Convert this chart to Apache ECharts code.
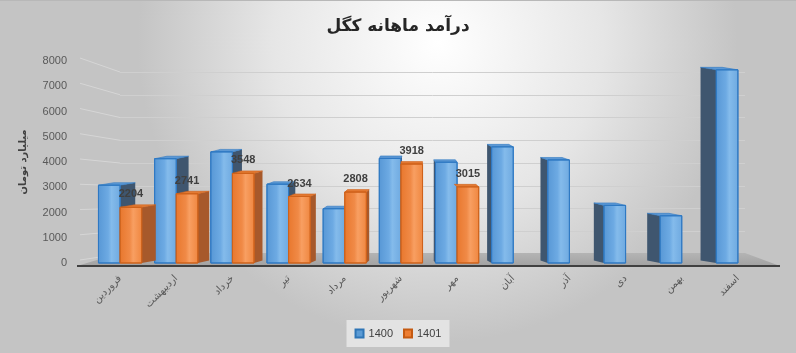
<!DOCTYPE html>
<html>
<head>
<meta charset="utf-8">
<script src="https://cdn.jsdelivr.net/npm/echarts@6/dist/echarts.min.js"></script>
<style>
  html, body { margin: 0; padding: 0; }
  #chart { width: 796px; height: 353px; }
</style>
</head>
<body>
<div id="chart"></div>
<script>
// monthly revenue, billion toman
const months = ["فروردین", "اردیبهشت", "خرداد", "تیر", "مرداد", "شهریور", "مهر", "آبان", "آذر", "دی", "بهمن", "اسفند"];
const rev1400 = [3080, 4130, 4400, 3120, 2150, 4140, 3990, 4600, 4080, 2280, 1870, 7650];
const rev1401 = [2204, 2741, 3548, 2634, 2808, 3918, 3015, null, null, null, null, null];
const yTicks = [0, 1000, 2000, 3000, 4000, 5000, 6000, 7000, 8000];

const faceFont = '"DejaVu Sans", sans-serif';
const numFont = '"Liberation Sans", Arial, sans-serif';

const palette = {
  blue: {
    front: ["#5797d5", "#6daae3", "#84bbeb", "#6ea9e0"],
    side: "#3f566f",
    top: "#5c98d4",
    edge: "#2f79c3"
  },
  orange: {
    front: ["#e8772d", "#f08a47", "#f89f62", "#ef863f"],
    side: "#a7592b",
    top: "#e37a33",
    edge: "#cf621b"
  }
};

function frontFill(c) {
  return new echarts.graphic.LinearGradient(0, 0, 1, 0, [
    { offset: 0, color: c[0] },
    { offset: 0.45, color: c[1] },
    { offset: 0.6, color: c[2] },
    { offset: 1, color: c[3] }
  ]);
}

// fake 3d column: front face + side + top, side direction follows perspective
function columnRenderer(seriesIdx) {
  const c = seriesIdx === 0 ? palette.blue : palette.orange;
  return function (params, api) {
    const v = api.value(1);
    if (v == null || isNaN(v)) return;
    const i = api.value(0);
    const top = api.coord([i, v]);
    const base = api.coord([i, 0]);
    const band = api.size([1, 0])[0];
    const w = band * 0.385;
    const x = seriesIdx === 0 ? top[0] - w : top[0];
    const cs = params.coordSys;
    const vx = cs.x + cs.width * 0.475;
    const dx = (vx - (x + w / 2)) * 0.05;
    const dy = -2.5;
    const yt = top[1], yb = base[1];
    const kids = [];

    if (dx > 0) {
      kids.push({
        type: "polygon",
        shape: { points: [[x + w, yt], [x + w + dx, yt + dy], [x + w + dx, yb + dy], [x + w, yb]] },
        style: { fill: c.side }
      });
    } else if (seriesIdx === 0) {
      kids.push({
        type: "polygon",
        shape: { points: [[x, yt], [x + dx, yt + dy], [x + dx, yb + dy], [x, yb]] },
        style: { fill: c.side }
      });
    }
    kids.push({
      type: "polygon",
      shape: { points: [[x, yt], [x + w, yt], [x + w + dx, yt + dy], [x + dx, yt + dy]] },
      style: { fill: c.top, stroke: c.edge, lineWidth: 0.6 }
    });
    kids.push({
      type: "rect",
      shape: { x: x, y: yt, width: w, height: yb - yt },
      style: { fill: frontFill(c.front), stroke: c.edge, lineWidth: 1 }
    });
    if (seriesIdx === 1) {
      kids.push({
        type: "text",
        z2: 20,
        style: {
          text: String(v),
          x: x + w / 2,
          y: yt - 13,
          align: "center",
          verticalAlign: "middle",
          font: "bold 11px " + numFont,
          fill: "#404040"
        }
      });
    }
    return { type: "group", children: kids };
  };
}

function floorRenderer(params, api) {
  const cs = params.coordSys;
  const fy = cs.y + cs.height + 3;
  const by = cs.y + cs.height - 10;
  const l = cs.x - 15, r = cs.x + cs.width + 14;
  return {
    type: "group",
    children: [
      {
        type: "polygon",
        shape: { points: [[l, fy], [r, fy], [cs.x + cs.width - 21, by], [cs.x + 28, by]] },
        style: {
          fill: new echarts.graphic.LinearGradient(0, 0, 0, 1, [
            { offset: 0, color: "#b4b4b4" },
            { offset: 1, color: "#a2a2a2" }
          ])
        }
      },
      {
        type: "line",
        shape: { x1: l, y1: fy, x2: r, y2: fy },
        style: { stroke: "#404040", lineWidth: 2 }
      }
    ]
  };
}

const chart = echarts.init(document.getElementById("chart"));

const option = {
  animation: false,
  title: {
    text: "درآمد ماهانه کگل",
    left: "center",
    top: 13,
    textStyle: { fontFamily: faceFont, fontWeight: "bold", fontSize: 17, color: "#262626" }
  },
  legend: {
    bottom: 6,
    left: "center",
    data: ["1400", "1401"],
    icon: "rect",
    itemWidth: 8,
    itemHeight: 8,
    itemGap: 10,
    padding: [8, 8],
    backgroundColor: "#e3e3e3",
    textStyle: { fontFamily: numFont, fontSize: 11, color: "#404040" }
  },
  grid: [
    { left: 92, right: 30, top: 61, bottom: 90 },
    { left: 120, right: 51, top: 72, bottom: 99 }
  ],
  xAxis: [
    {
      type: "category",
      data: months,
      gridIndex: 0,
      axisLine: { show: false },
      axisTick: { show: false },
      axisLabel: { rotate: 45, margin: 14, fontSize: 10, color: "#595959", fontFamily: faceFont }
    },
    { type: "value", gridIndex: 1, show: false, min: 0, max: 1 }
  ],
  yAxis: [
    {
      type: "value",
      gridIndex: 0,
      min: yTicks[0],
      max: yTicks[yTicks.length - 1],
      interval: yTicks[1] - yTicks[0],
      name: "میلیارد تومان",
      nameLocation: "middle",
      nameRotate: 90,
      nameGap: 64,
      nameTextStyle: { fontFamily: faceFont, fontWeight: "bold", fontSize: 10, color: "#404040" },
      axisLine: { show: false },
      axisTick: { show: false },
      splitLine: { show: false },
      axisLabel: {
        margin: 25,
        fontSize: 11,
        color: "#595959",
        fontFamily: numFont,
        formatter: (val) => String(val)
      }
    },
    {
      type: "value",
      gridIndex: 1,
      min: yTicks[0],
      max: yTicks[yTicks.length - 1],
      interval: yTicks[1] - yTicks[0],
      axisLine: { show: false },
      axisTick: { show: false },
      axisLabel: { show: false },
      splitLine: { lineStyle: { color: "#cfcfcf", width: 1 } }
    }
  ],
  series: [
    {
      type: "custom",
      name: "floor",
      xAxisIndex: 0,
      yAxisIndex: 0,
      z: 1,
      silent: true,
      renderItem: floorRenderer,
      data: [[0, 0]]
    },
    {
      type: "custom",
      name: "1400",
      xAxisIndex: 0,
      yAxisIndex: 0,
      z: 2,
      itemStyle: { color: "#5b9bd5", borderColor: "#2e75b6", borderWidth: 1 },
      renderItem: columnRenderer(0),
      encode: { x: 0, y: 1 },
      data: rev1400.map((v, i) => [i, v])
    },
    {
      type: "custom",
      name: "1401",
      xAxisIndex: 0,
      yAxisIndex: 0,
      z: 3,
      itemStyle: { color: "#ed7d31", borderColor: "#c55a11", borderWidth: 1 },
      renderItem: columnRenderer(1),
      encode: { x: 0, y: 1 },
      data: rev1401.map((v, i) => [i, v == null ? "-" : v])
    }
  ]
};

chart.setOption(option);

// background and the slanted side-wall grid lines
const wallLines = yTicks.map((t, k) => {
  const yf = chart.convertToPixel({ yAxisIndex: 0 }, t) - 3;
  const yb = chart.convertToPixel({ yAxisIndex: 1 }, t);
  return {
    type: "line",
    id: "wall" + k,
    z: -5,
    silent: true,
    shape: { x1: 80, y1: yf, x2: 120, y2: yb },
    style: { stroke: "#d6d6d6", lineWidth: 1 }
  };
});

chart.setOption({
  graphic: [
    {
      type: "rect",
      id: "bg",
      z: -10,
      silent: true,
      shape: { x: 0, y: 0, width: 796, height: 353 },
      style: {
        fill: new echarts.graphic.RadialGradient(0.55, 0.12, 0.85, [
          { offset: 0, color: "#ffffff" },
          { offset: 0.55, color: "#e6e6e6" },
          { offset: 1, color: "#c4c4c4" }
        ])
      }
    },
    {
      type: "line",
      id: "topline",
      z: -4,
      silent: true,
      shape: { x1: 0, y1: 0.5, x2: 796, y2: 0.5 },
      style: { stroke: "#b8b8b8", lineWidth: 1 }
    }
  ].concat(wallLines)
});
</script>
</body>
</html>
